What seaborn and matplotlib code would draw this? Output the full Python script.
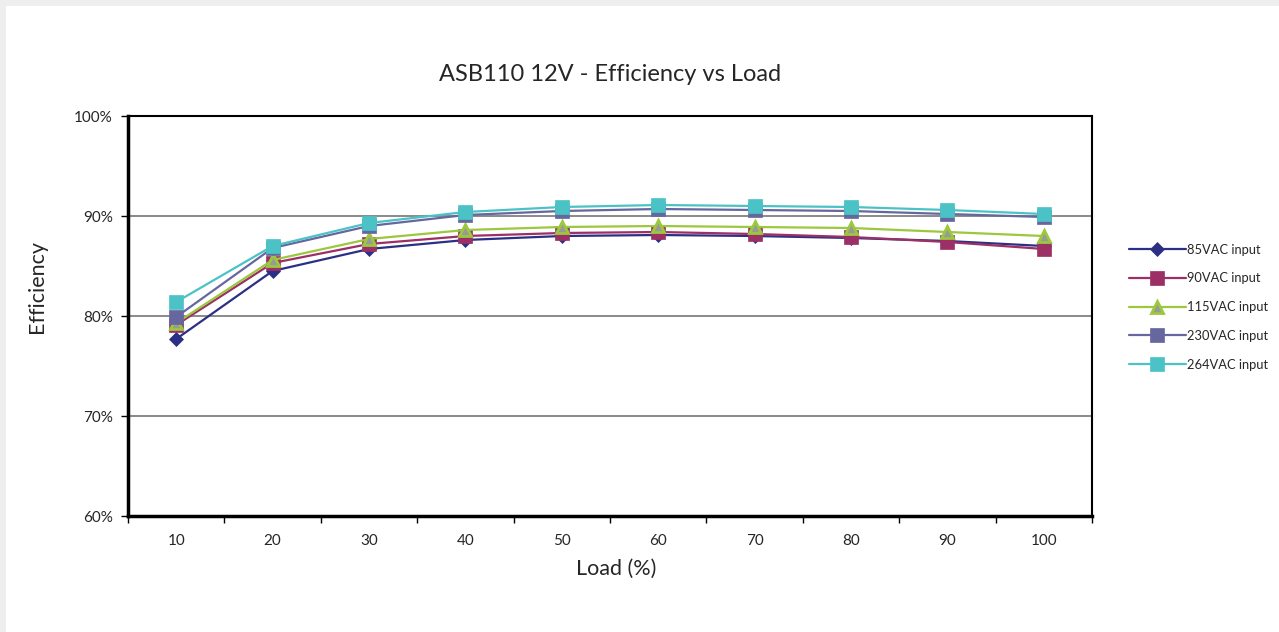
import pandas as pd
import numpy as np
import seaborn as sns
import matplotlib.pyplot as plt
from matplotlib.patches import Rectangle

loads = [10, 20, 30, 40, 50, 60, 70, 80, 90, 100]
eff_85 = [77.7, 84.5, 86.7, 87.6, 88.0, 88.1, 88.0, 87.8, 87.5, 87.0]
eff_90 = [79.1, 85.3, 87.2, 88.0, 88.3, 88.4, 88.2, 87.9, 87.4, 86.7]
eff_115 = [79.3, 85.6, 87.7, 88.6, 88.9, 89.0, 88.9, 88.8, 88.4, 88.0]
eff_230 = [79.9, 86.8, 89.0, 90.1, 90.5, 90.7, 90.6, 90.5, 90.2, 89.9]
eff_264 = [81.4, 87.0, 89.3, 90.4, 90.9, 91.1, 91.0, 90.9, 90.6, 90.2]
series_names = ["85VAC input", "90VAC input", "115VAC input", "230VAC input", "264VAC input"]
y_ticks = [60, 70, 80, 90, 100]

sns.set_style("white")
plt.rcParams['font.family'] = ['Lato', 'DejaVu Sans']

rows = []
for name, vals in zip(series_names, [eff_85, eff_90, eff_115, eff_230, eff_264]):
    for i, v in enumerate(vals):
        rows.append({"pos": i, "eff": v, "series": name})
df = pd.DataFrame(rows)

palette = {"85VAC input": "#2b2f85", "90VAC input": "#9c2f65",
           "115VAC input": "#9bc83d", "230VAC input": "#65679e",
           "264VAC input": "#4bc3c6"}
markers = {"85VAC input": "D", "90VAC input": "s", "115VAC input": "^",
           "230VAC input": "s", "264VAC input": "s"}
msizes = {"85VAC input": 7, "90VAC input": 10, "115VAC input": 9,
          "230VAC input": 10, "264VAC input": 10}

fig = plt.figure(figsize=(12.79, 6.32), dpi=100)
fig.patch.set_facecolor("#eeeeee")
fig.patches.append(Rectangle((6 / 1279, 0), 1273 / 1279, 1 - 6 / 632, transform=fig.transFigure,
                             facecolor="white", edgecolor="none", zorder=-10))
ax = fig.add_axes([128 / 1279, 1 - 516 / 632, (1092 - 128) / 1279, 400 / 632])
ax.set_facecolor("white")

for name in series_names:
    sub = df[df["series"] == name]
    tri = name == "115VAC input"
    sns.lineplot(data=sub, x="pos", y="eff", ax=ax, color=palette[name], lw=1.6,
                 marker=markers[name], markersize=msizes[name],
                 markerfacecolor="#999999" if tri else palette[name],
                 markeredgecolor=palette[name], markeredgewidth=2 if tri else 0.5,
                 label=name)

ax.set_xlim(-0.5, 9.5)
ax.set_ylim(60, 100)
ax.set_yticks(y_ticks)
ax.set_yticklabels([f"{t}%" for t in y_ticks], fontsize=11)
ax.set_xticks(range(len(loads)))
ax.set_xticklabels([str(l) for l in loads], fontsize=11)
ax.set_xticks(np.arange(-0.5, 10, 1), minor=True)
ax.tick_params(axis="x", which="major", length=0, pad=13)
ax.tick_params(axis="x", which="minor", length=5, width=1, color="black", direction="out", bottom=True)
ax.tick_params(axis="y", length=5, width=1, color="black", direction="out", left=True, pad=6)
ax.grid(axis="y", color="#777777", lw=1.2)
ax.set_axisbelow(True)
for s in ax.spines.values():
    s.set_color("black")
    s.set_linewidth(1.5)
ax.spines["left"].set_linewidth(2.5)
ax.spines["bottom"].set_linewidth(2.5)

ax.set_xlabel("Load (%)", fontsize=15.5)
ax.xaxis.set_label_coords(0.506, -0.108)
ax.set_ylabel("Efficiency", fontsize=15.5)
ax.yaxis.set_label_coords(-0.084, 0.575)
ax.set_title("ASB110 12V - Efficiency vs Load", fontsize=17, pad=25)

ax.legend(loc="center left", bbox_to_anchor=(1.026, 0.522), frameon=False, fontsize=9.3,
          handlelength=4.4, labelspacing=1.3, handletextpad=0.15)

fig.savefig("out.png", dpi=100)
